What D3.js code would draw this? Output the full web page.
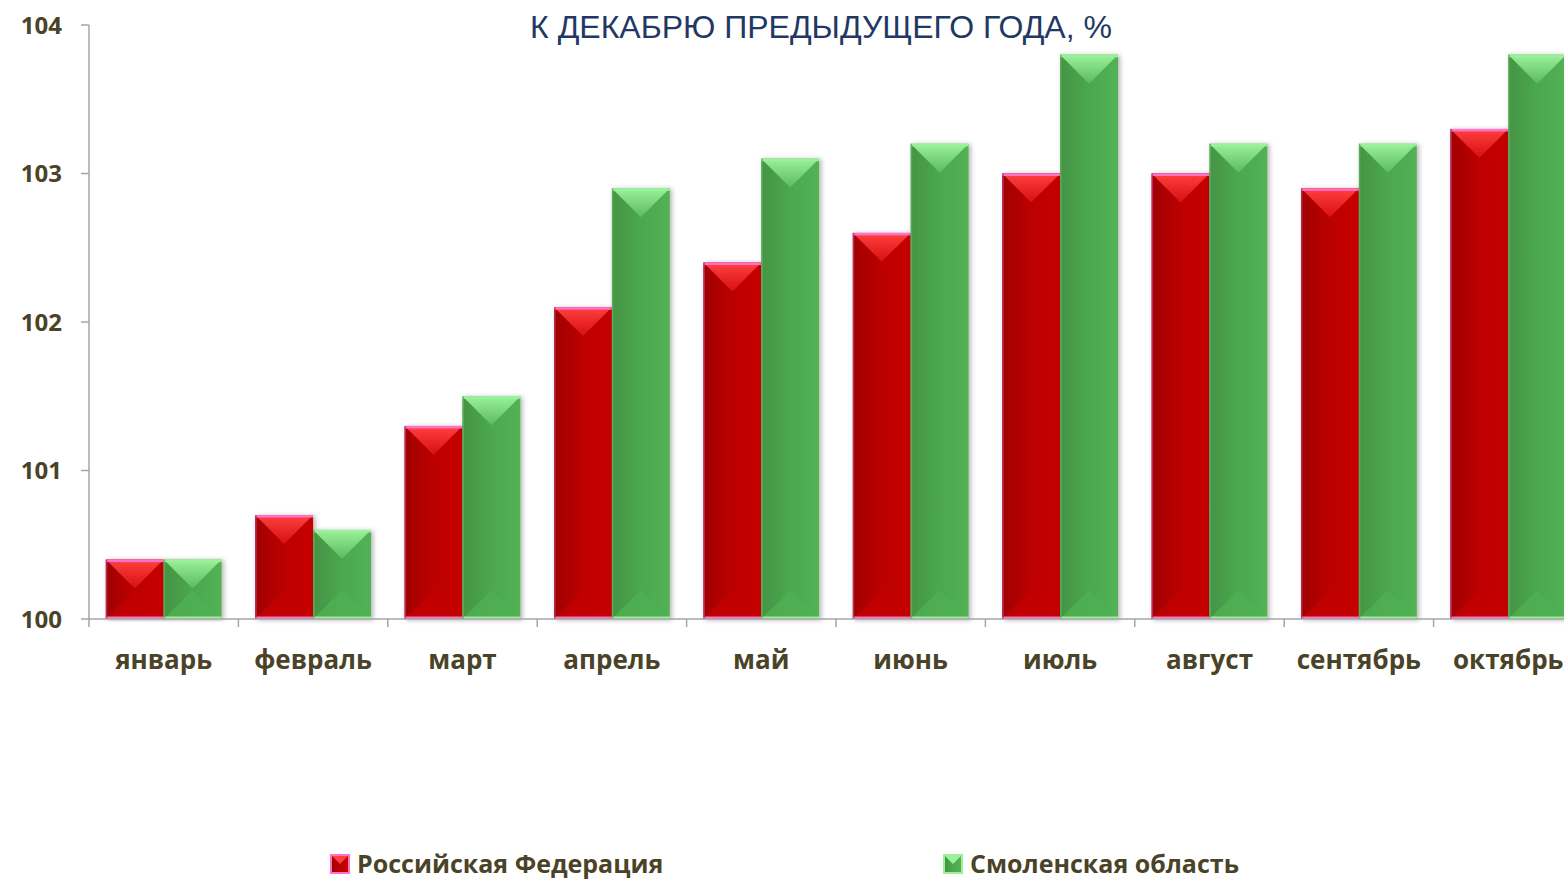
<!DOCTYPE html>
<html><head><meta charset="utf-8">
<script src="https://cdn.jsdelivr.net/npm/d3@7"></script>
<style>body{margin:0;background:#fff;overflow:hidden}svg{display:block}</style>
</head><body><svg id="c" width="1564" height="881"></svg>
<script>
const months = ["январь","февраль","март","апрель","май","июнь","июль","август","сентябрь","октябрь"];
const rf = [100.4,100.7,101.3,102.1,102.4,102.6,103.0,103.0,102.9,103.3];
const smol = [100.4,100.6,101.5,102.9,103.1,103.2,103.8,103.2,103.2,103.8];
const seriesNames = ["Российская Федерация","Смоленская область"];
const yTicks = [100,101,102,103,104];
const title = "К ДЕКАБРЮ ПРЕДЫДУЩЕГО ГОДА, %";

const svg = d3.select("#c");
const x0 = 89, plotRight = 1583, yTop = 25, yBot = 619;
const x = d3.scaleBand().domain(months).range([x0, plotRight]).paddingInner(0).paddingOuter(0);
const x1 = d3.scaleBand().domain([0,1]).range([0, x.bandwidth()]).paddingOuter(0.29).paddingInner(0);
const y = d3.scaleLinear().domain([100,104]).range([yBot, yTop]);

const pal = [
  {l:"#A00000", m:"#BC0000", r:"#C60000", top:"#FF4040", topEnd:"#D81010", bottom:"#C20000", edge:"#FF70C8", side:"#C03070"},
  {l:"#449444", m:"#4CA84E", r:"#52B254", top:"#9AF29A", topEnd:"#5CBA5D", bottom:"#50AF52", edge:"#9CF09C", side:"#5FAF60"}
];
const defs = svg.append("defs");
const f = defs.append("filter").attr("id","sh").attr("x","-15%").attr("y","-5%").attr("width","130%").attr("height","110%");
f.append("feDropShadow").attr("dx",2).attr("dy",1).attr("stdDeviation",2.5).attr("flood-color","#000").attr("flood-opacity",0.3);
pal.forEach((p,i)=>{
  const g = defs.append("linearGradient").attr("id","tg"+i).attr("x1",0).attr("y1",0).attr("x2",0).attr("y2",1);
  g.append("stop").attr("offset","0").attr("stop-color",p.top);
  g.append("stop").attr("offset","1").attr("stop-color",p.topEnd);
  const h = defs.append("linearGradient").attr("id","lg"+i).attr("x1",0).attr("y1",0).attr("x2",1).attr("y2",0);
  h.append("stop").attr("offset","0").attr("stop-color",p.l);
  h.append("stop").attr("offset","0.5").attr("stop-color",p.m);
  h.append("stop").attr("offset","1").attr("stop-color",p.r);
});

const axisCol = "#A6A6A6";
const tickFont = "'Open Sans',Lato,sans-serif";
const txtCol = "#4A4328";

svg.append("line").attr("x1",x0).attr("x2",x0).attr("y1",yTop).attr("y2",yBot).attr("stroke",axisCol).attr("stroke-width",1.5);
yTicks.forEach(t=>{
  svg.append("line").attr("x1",x0-8).attr("x2",x0).attr("y1",y(t)).attr("y2",y(t)).attr("stroke",axisCol).attr("stroke-width",1.5);
  svg.append("text").attr("x",62).attr("y",y(t)).attr("dy","0.36em").attr("text-anchor","end")
    .attr("font-family",tickFont).attr("font-weight",700).attr("font-size",24).attr("fill",txtCol).text(t);
});

const data = [rf, smol];
const bars = svg.append("g");
months.forEach((m,i)=>{
  [0,1].forEach(s=>{
    const v = data[s][i], p = pal[s];
    const bx = x(m)+x1(s), w = x1.bandwidth(), ty = y(v), by = y(100), h = by-ty;
    const d = Math.min(w/2, h/2), cx = bx+w/2;
    const g = bars.append("g").attr("filter","url(#sh)");
    g.append("rect").attr("x",bx).attr("y",ty).attr("width",w).attr("height",h).attr("fill","url(#lg"+s+")");
    g.append("polygon").attr("points",[[bx,by],[cx,by-d],[bx+w,by]].join(" ")).attr("fill",p.bottom).attr("opacity",0.85);
    g.append("polygon").attr("points",[[bx,ty],[cx,ty+d],[bx+w,ty]].join(" ")).attr("fill","url(#tg"+s+")");
    g.append("rect").attr("x",bx).attr("y",ty).attr("width",w).attr("height",2.5).attr("fill",p.edge);
    g.append("rect").attr("x",bx).attr("y",by-2.5).attr("width",w).attr("height",2.5).attr("fill",p.edge);
    g.append("rect").attr("x",bx).attr("y",ty).attr("width",1.5).attr("height",h).attr("fill",p.side).attr("opacity",0.8);
  });
});

svg.append("line").attr("x1",x0).attr("x2",1564).attr("y1",yBot).attr("y2",yBot).attr("stroke",axisCol).attr("stroke-width",1.5);
months.forEach(m=>{
  const tx = x(m);
  svg.append("line").attr("x1",tx).attr("x2",tx).attr("y1",yBot).attr("y2",yBot+8).attr("stroke",axisCol).attr("stroke-width",1.5);
  svg.append("text").attr("x",tx+x.bandwidth()/2).attr("y",669).attr("text-anchor","middle")
    .attr("font-family",tickFont).attr("font-weight",700).attr("font-size",26).attr("fill",txtCol).text(m);
});

svg.append("text").attr("x",821).attr("y",38).attr("text-anchor","middle")
  .attr("font-family","'Liberation Sans',Arial,sans-serif").attr("font-size",32).attr("fill","#1F3864").text(title);

const legX = [330, 943];
seriesNames.forEach((n,s)=>{
  const p = pal[s];
  const lg = svg.append("g").attr("transform",`translate(${legX[s]},854)`);
  lg.append("rect").attr("x",0).attr("y",0).attr("width",20).attr("height",20).attr("fill",p.edge);
  lg.append("rect").attr("x",2).attr("y",2).attr("width",16).attr("height",16).attr("fill","url(#lg"+s+")");
  lg.append("polygon").attr("points","2,2 10,10 18,2").attr("fill",p.top);
  lg.append("text").attr("x",27).attr("y",10).attr("dy","0.36em")
    .attr("font-family",tickFont).attr("font-weight",700).attr("font-size",25).attr("fill",txtCol).text(n);
});
</script></body></html>
